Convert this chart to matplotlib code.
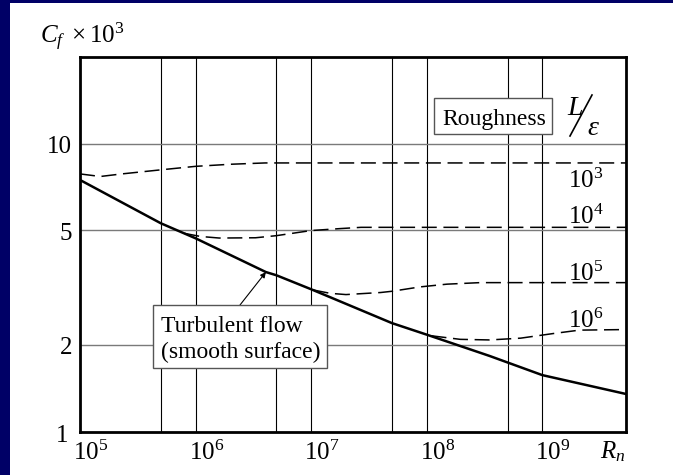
import matplotlib
matplotlib.use('Agg')
import matplotlib.pyplot as plt
import matplotlib.transforms as mtransforms
from matplotlib.patches import Rectangle
from matplotlib.lines import Line2D

plt.rcParams['font.family'] = ['Liberation Serif', 'DejaVu Serif']
plt.rcParams['mathtext.fontset'] = 'custom'
plt.rcParams['mathtext.rm'] = 'Liberation Serif'
plt.rcParams['mathtext.it'] = 'Liberation Serif:italic'
plt.rcParams['mathtext.bf'] = 'Liberation Serif:bold'
plt.rcParams['lines.scale_dashes'] = False

# ---------------- data ----------------
x_ticks = [1e5, 1e6, 1e7, 1e8, 1e9]
x_tick_labels = [r'$10^5$', r'$10^6$', r'$10^7$', r'$10^8$', r'$10^9$']
y_ticks = [10, 5, 2]
y_tick_labels = ['10', '5', '2']
v_grid = [5e5, 1e6, 5e6, 1e7, 5e7, 1e8, 5e8, 1e9]
h_grid = [2, 5, 10]

smooth_re = [1e5, 5e5, 1e6, 4.06e6, 5e6, 1e7, 5e7, 1e8, 3.5e8, 1e9, 5.3e9]
smooth_cf = [7.48, 5.29, 4.69, 3.58, 3.49, 3.12, 2.38, 2.17, 1.83, 1.57, 1.35]

r3_re = [1e5, 1.5e5, 2.3e5, 5e5, 1e6, 2e6, 4e6, 5.3e9]
r3_cf = [7.85, 7.69, 7.85, 8.11, 8.34, 8.48, 8.57, 8.57]

r4_re = [8e5, 1.1e6, 1.6e6, 3.3e6, 5e6, 1e7, 1.8e7, 2.7e7, 5.3e9]
r4_cf = [4.88, 4.76, 4.70, 4.71, 4.79, 4.99, 5.07, 5.12, 5.12]

r5_re = [1.05e7, 1.46e7, 2.0e7, 4e7, 5e7, 8.8e7, 1.5e8, 2.9e8, 5.3e9]
r5_cf = [3.10, 3.02, 2.99, 3.04, 3.07, 3.18, 3.25, 3.29, 3.29]

r6_re = [1.1e8, 1.95e8, 3.5e8, 6.5e8, 1.25e9, 2.1e9, 5.2e9]
r6_cf = [2.15, 2.09, 2.08, 2.11, 2.19, 2.25, 2.26]

rough_curves = [(r3_re, r3_cf), (r4_re, r4_cf), (r5_re, r5_cf), (r6_re, r6_cf)]
rough_labels = [r'$10^3$', r'$10^4$', r'$10^5$', r'$10^6$']
rough_label_cf = [7.04, 5.24, 3.32, 2.285]
rough_label_re = 1.66e9

arrow_re, arrow_cf = 4.06e6, 3.58

# ---------------- figure ----------------
W, H = 673, 475
fig = plt.figure(figsize=(W / 100, H / 100), dpi=100)
fig.patch.set_facecolor('#000066')

# pixel-coordinate transform (origin top-left)
px = mtransforms.Affine2D().scale(1 / W, -1 / H).translate(0, 1) + fig.transFigure

fig.patches.append(Rectangle((10, 3), W - 10, H - 3, transform=px,
                             facecolor='white', edgecolor='none', zorder=-10))

L, R, T, B = 80, 626, 57, 431.5
ax = fig.add_axes([L / W, 1 - B / H, (R - L) / W, (B - T) / H])
ax.set_xscale('log')
ax.set_yscale('log')
ax.set_xlim(1e5, 5.3e9)
ax.set_ylim(1, 20)
ax.set_facecolor('white')
ax.set_xticks([])
ax.set_yticks([])
ax.minorticks_off()
for s in ax.spines.values():
    s.set_linewidth(2.0)
    s.set_color('black')
    s.set_zorder(10)

for xv in v_grid:
    ax.axvline(xv, color='black', lw=0.8, zorder=1)
for yv in h_grid:
    ax.axhline(yv, color='#7a7a7a', lw=1.0, zorder=1)

ax.plot(smooth_re, smooth_cf, color='black', lw=1.8, zorder=4,
        solid_joinstyle='round')
for re_, cf_ in rough_curves:
    ax.plot(re_, cf_, color='black', lw=1.1, linestyle=(0, (10.8, 4.8)),
            zorder=3)

for lab, cfv in zip(rough_labels, rough_label_cf):
    ax.text(rough_label_re, cfv, lab, fontsize=18, ha='left',
            va='baseline', zorder=6)

# tick labels
off_x = mtransforms.ScaledTranslation(-7 / 100, -28.5 / 100, fig.dpi_scale_trans)
for xv, lab in zip(x_ticks, x_tick_labels):
    ax.text(xv, 0, lab, transform=ax.get_xaxis_transform() + off_x,
            fontsize=18, ha='left', va='baseline')
off_y = mtransforms.ScaledTranslation(-8 / 100, -9.5 / 100, fig.dpi_scale_trans)
for yv, lab in zip(y_ticks, y_tick_labels):
    ax.text(0, yv, lab, transform=ax.get_yaxis_transform() + off_y,
            fontsize=18, ha='right', va='baseline')
off_1 = mtransforms.ScaledTranslation(-12 / 100, -10.5 / 100, fig.dpi_scale_trans)
ax.text(0, 1, '1', transform=ax.get_yaxis_transform() + off_1,
        fontsize=18, ha='right', va='baseline')

# axis titles
fig.text(40, 43, r'$C_f\ \times 10^3$', transform=px, fontsize=18,
         ha='left', va='baseline')
fig.text(600, 458, r'$R_n$', transform=px, fontsize=18, ha='left',
         va='baseline')

# Roughness box
fig.patches.append(Rectangle((434, 98), 118, 36, transform=px,
                             facecolor='white', edgecolor='#555555', lw=1.0,
                             zorder=5))
fig.text(442, 125, 'Roughness', transform=px, fontsize=17, ha='left',
         va='baseline', zorder=6)
fig.text(567, 115, 'L', transform=px, fontsize=20, style='italic',
         ha='left', va='baseline', zorder=6)
fig.lines.append(Line2D([570, 592], [136, 95], transform=px, color='black',
                        lw=1.2, zorder=6))
fig.text(587, 135, r'$\varepsilon$', transform=px, fontsize=20, ha='left',
         va='baseline', zorder=6)

# Turbulent flow box
fig.patches.append(Rectangle((153, 305), 174, 63, transform=px,
                             facecolor='white', edgecolor='#555555', lw=1.0,
                             zorder=5))
fig.text(161, 331.5, 'Turbulent flow', transform=px, fontsize=17,
         ha='left', va='baseline', zorder=6)
fig.text(161, 358.5, '(smooth surface)', transform=px, fontsize=17,
         ha='left', va='baseline', zorder=6)
ax.annotate('', xy=(arrow_re, arrow_cf), xycoords='data',
            xytext=(240, 305), textcoords=px,
            arrowprops=dict(arrowstyle='-|>', color='black', lw=0.8,
                            mutation_scale=8, shrinkA=0, shrinkB=0),
            annotation_clip=False, zorder=6)

fig.savefig('out.png', dpi=100, facecolor=fig.get_facecolor())
